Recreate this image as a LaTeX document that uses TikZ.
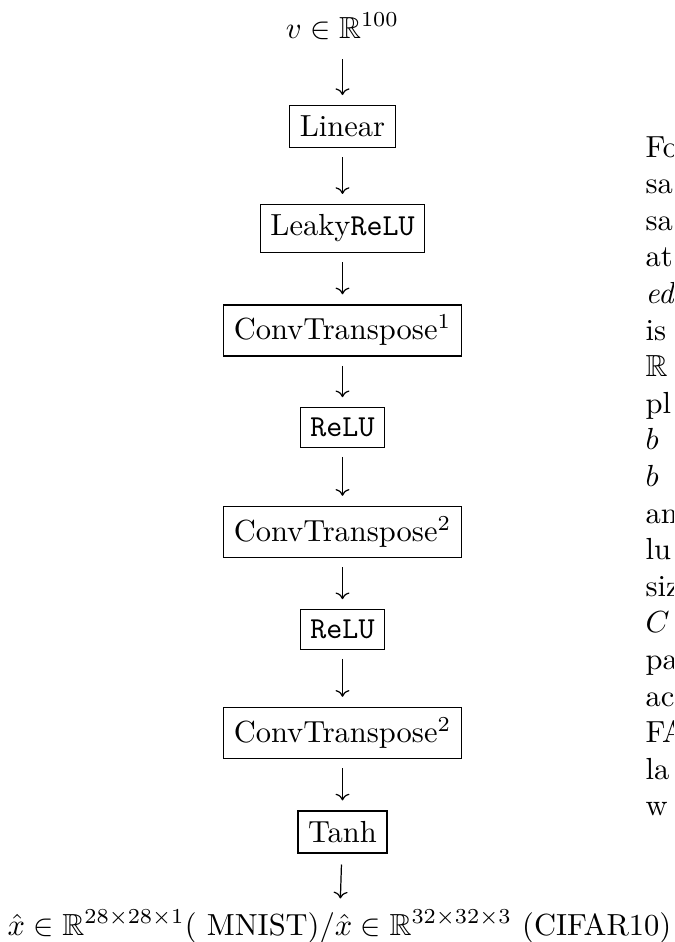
\documentclass[tikz,border=0pt]{standalone}
\usepackage{amsmath,amssymb}
\usetikzlibrary{arrows.meta}
\begin{document}
\begin{tikzpicture}[x=0.32787pt,y=-0.32787pt,
  layer/.style={draw, line width=0.4pt, inner sep=3.33pt},
  conn/.style={-{Computer Modern Rightarrow[width=4.6pt,length=2.2pt]}, line width=0.4pt, shorten <=3pt, shorten >=3.3pt}]
\useasboundingbox (0,0) rectangle (674,942);
\node[anchor=base] (in) at (342.5,38) {$v\in\mathbb{R}^{100}$};
\node[layer] (lin) at (342.5,126.5) {Linear};
\node[layer] (lrelu) at (342.5,228.5) {Leaky\texttt{ReLU}};
\node[layer] (ct1) at (342.5,330.5) {ConvTranspose$^1$};
\node[layer] (relu1) at (342.5,427.5) {\texttt{ReLU}};
\node[layer] (ct2) at (342.5,532) {ConvTranspose$^2$};
\node[layer] (relu2) at (342.5,629.5) {\texttt{ReLU}};
\node[layer] (ct3) at (342.5,733) {ConvTranspose$^2$};
\node[layer] (tanh) at (342.5,832) {Tanh};
\node[anchor=base] (out) at (339.5,935) {$\hat{x}\in\mathbb{R}^{28\times28\times1}(\text{ MNIST})/\hat{x}\in\mathbb{R}^{32\times32\times3}\text{ (CIFAR10)}$};
\draw[conn] (in) -- (lin);
\draw[conn] (lin) -- (lrelu);
\draw[conn] (lrelu) -- (ct1);
\draw[conn] (ct1) -- (relu1);
\draw[conn] (relu1) -- (ct2);
\draw[conn] (ct2) -- (relu2);
\draw[conn] (relu2) -- (ct3);
\draw[conn] (ct3) -- (tanh);
\draw[conn, shorten <=3.6pt, shorten >=0.3pt] (tanh) -- (out);
\begin{scope}
\clip (0,0) rectangle (674,942);
\node[anchor=north west, align=left, inner sep=0pt] (para) at (645,135.8) {%
For\\
sa\\
sa\\
at\\
\textit{ed}\\
is\\
$\mathbb{R}$\\
pl\\
$b$\\
$b$\\
an\\
lu\\
siz\\
$C$\\
pa\\
ac\\
FA\\
la\\
w};
\end{scope}
\end{tikzpicture}
\end{document}
